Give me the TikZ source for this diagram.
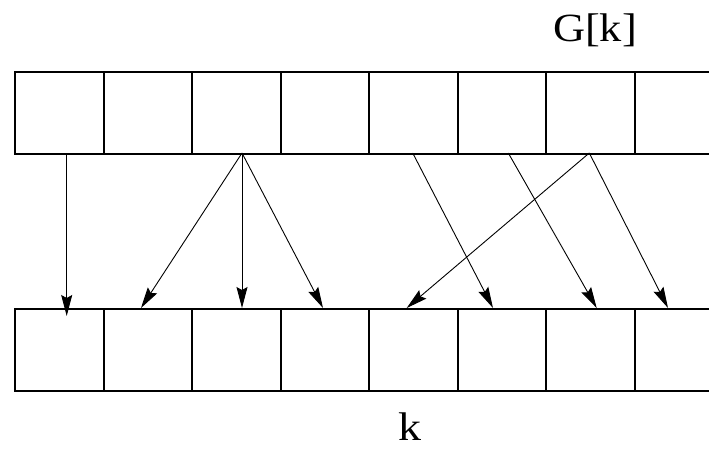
\documentclass[tikz,border=0pt]{standalone}
\usepackage{fontspec}
\setmainfont{Liberation Serif}
\usetikzlibrary{arrows.meta}
\begin{document}
\begin{tikzpicture}[x=1pt,y=-1pt,
  cell/.style={draw, line width=1.5pt, rectangle, inner sep=0pt, minimum height=82pt, anchor=north west},
  link/.style={line width=0.9pt, -{Stealth[length=21pt,width=11pt,inset=3pt]}},
  lbl/.style={font=\fontsize{40}{46}\selectfont, inner sep=0pt}]
\useasboundingbox (0,0) rectangle (709,450);
\begin{scope}
\clip (0,0) rectangle (709,450);
\foreach \i/\x/\w in {0/14/89,1/103/88,2/191/89,3/280/88,4/368/89,5/457/88,6/545/89,7/634/89} {
  \node[cell, minimum width=\w pt] (t\i) at (\x,71) {};
  \node[cell, minimum width=\w pt] (b\i) at (\x,308) {};
}
\end{scope}
\node[lbl] (gk) at (595,30) {\scalebox{1.11}[1]{G[k]}};
\node[lbl] (k) at (410,427) {\scalebox{1.15}[1]{k}};
% start and end points
\coordinate (s0) at (66.7,153);
\coordinate (s2) at (242,153);
\coordinate (s4) at (412.7,153);
\coordinate (s5) at (508.3,153);
\coordinate (s6) at (589.3,153);
\coordinate (e0) at (66.7,316);
\coordinate (e1) at (141,308);
\coordinate (e2) at (242,308);
\coordinate (e3) at (323,308);
\coordinate (e4) at (493,308);
\coordinate (e5) at (596.7,308);
\coordinate (e6) at (406.7,308);
\coordinate (e7) at (668,308);
\draw[link] (s0) -- (e0);
\draw[link] (s2) -- (e1);
\draw[link] (s2) -- (e2);
\draw[link] (s2) -- (e3);
\draw[link] (s4) -- (e4);
\draw[link] (s5) -- (e5);
\draw[link] (s6) -- (e6);
\draw[link] (s6) -- (e7);
\end{tikzpicture}
\end{document}
